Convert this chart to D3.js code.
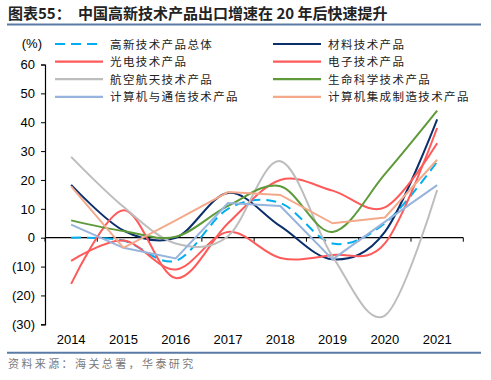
<!DOCTYPE html>
<html><head><meta charset="utf-8">
<script src="https://cdn.jsdelivr.net/npm/d3@7"></script>
<style>body{margin:0;background:#fff}svg{display:block}</style>
</head><body><svg id="c" width="491" height="380"></svg>
<script>
const years = ["2014","2015","2016","2017","2018","2019","2020","2021"];
const yTicks = [-30,-20,-10,0,10,20,30,40,50,60];
const names = ["高新技术产品总体","材料技术产品","光电技术产品","电子技术产品","航空航天技术产品","生命科学技术产品","计算机与通信技术产品","计算机集成制造技术产品"];
const overall   = [0, -1, -8, 10, 12, -2, 5, 26.3];
const materials = [18.3, 2.5, 0, 15.5, 4, -7.5, 2, 41];
const optoelec  = [-16, 9.5, -14, 5, 20, 16.3, 10.5, 32.7];
const electronic= [-8, -1, -11, 2, -7, -6, -2, 38];
const aerospace = [28, 10.7, -2, 0.5, 26.5, -6.5, -27, 16.5];
const lifesci   = [6, 2.3, 0.3, 11, 17.8, 2, 22, 44];
const compComm  = [4.5, -3.5, -7.2, 12, 11, -7.5, 5.5, 18.2];
const compMfg   = [17.8, -3.5, 6, 15.8, 14.8, 5, 7, 27];

const seriesVals = [overall, materials, optoelec, electronic, aerospace, lifesci, compComm, compMfg];
const colors = ["#00AEEF","#0B2F6B","#FF5A5A","#FF5A5A","#BDBDBD","#5E9A3A","#97B4DC","#F4A98B"];
const dashed = [true,false,false,false,false,false,false,false];
const smooth = [true,true,true,true,true,true,false,false];

const svg = d3.select("#c");
const font = "'Liberation Sans', Arial, sans-serif";
const cjk = "'Noto Sans CJK SC', sans-serif";

// Title
svg.append("text").attr("x",8).attr("y",19).attr("font-family",cjk).attr("font-weight","bold")
  .attr("font-size",15).attr("fill","#222").text("图表55：");
svg.append("text").attr("x",78).attr("y",19).attr("font-family",cjk).attr("font-weight","bold")
  .attr("font-size",15).attr("fill","#222").text("中国高新技术产品出口增速在 20 年后快速提升");
svg.append("line").attr("x1",7).attr("x2",481).attr("y1",24.5).attr("y2",24.5)
  .attr("stroke","#5A7BA6").attr("stroke-width",2.2);

// Scales
const x = d3.scaleBand().domain(years).range([45,463.3]);
const y = d3.scaleLinear().domain([-30,60]).range([324.3,64.5]);

// Y axis
const yAxis = d3.axisLeft(y).tickValues(yTicks).tickSize(4).tickPadding(6)
  .tickFormat(d => d < 0 ? "(" + Math.abs(d) + ")" : d);
const yg = svg.append("g").attr("transform","translate(45,0)").call(yAxis);
yg.select(".domain").attr("stroke","#000").attr("stroke-width",1.2);
yg.selectAll(".tick line").attr("stroke","#000");
yg.selectAll("text").attr("font-family",font).attr("font-size",13).attr("fill","#000");

// X axis at zero
const xg = svg.append("g").attr("transform",`translate(0,${y(0)})`);
xg.append("line").attr("x1",45).attr("x2",463.3).attr("stroke","#000").attr("stroke-width",1.2);
const bounds = years.map((d,i)=>x(d)+x.bandwidth()).concat([x(years[0])]);
xg.selectAll("line.t").data(bounds).join("line").attr("class","t")
  .attr("x1",d=>d).attr("x2",d=>d).attr("y1",0).attr("y2",4).attr("stroke","#000");
svg.append("g").selectAll("text").data(years).join("text")
  .attr("x",d=>x(d)+x.bandwidth()/2).attr("y",344).attr("text-anchor","middle")
  .attr("font-family",font).attr("font-size",13).attr("fill","#000").text(d=>d);

// Lines
seriesVals.forEach((vals,i)=>{
  const line = d3.line().x((d,j)=>x(years[j])+x.bandwidth()/2).y(d=>y(d))
    .curve(smooth[i] ? d3.curveCardinal.tension(0) : d3.curveLinear);
  svg.append("path").datum(vals).attr("d",line).attr("fill","none")
    .attr("stroke",colors[i]).attr("stroke-width",2)
    .attr("stroke-dasharray",dashed[i] ? "10,6" : null);
});

// "(%)"
svg.append("text").attr("x",42).attr("y",48).attr("text-anchor","end")
  .attr("font-family",font).attr("font-size",13).attr("fill","#000").text("(%)");

// Legend
const legendOrder = [0,2,4,6,1,3,5,7];
legendOrder.forEach((si,k)=>{
  const col = k < 4 ? 0 : 1, row = k % 4;
  const lx = col===0 ? 55 : 273, ly = 44 + row*17.6;
  svg.append("line").attr("x1",lx).attr("x2",lx+48).attr("y1",ly).attr("y2",ly)
    .attr("stroke",colors[si]).attr("stroke-width",2.2)
    .attr("stroke-dasharray",dashed[si] ? "10,6" : null);
  svg.append("text").attr("x",lx+55).attr("y",ly+4.5).attr("font-family",cjk)
    .attr("font-size",11.5).attr("letter-spacing",1.4).attr("fill","#222").text(names[si]);
});

// Footer
svg.append("line").attr("x1",7).attr("x2",481).attr("y1",352.8).attr("y2",352.8)
  .attr("stroke","#5A7BA6").attr("stroke-width",2);
svg.append("text").attr("x",8).attr("y",368).attr("font-family",cjk).attr("font-size",11)
  .attr("letter-spacing",2.4).attr("fill","#7a7a7a").text("资料来源：海关总署，华泰研究");
</script></body></html>
